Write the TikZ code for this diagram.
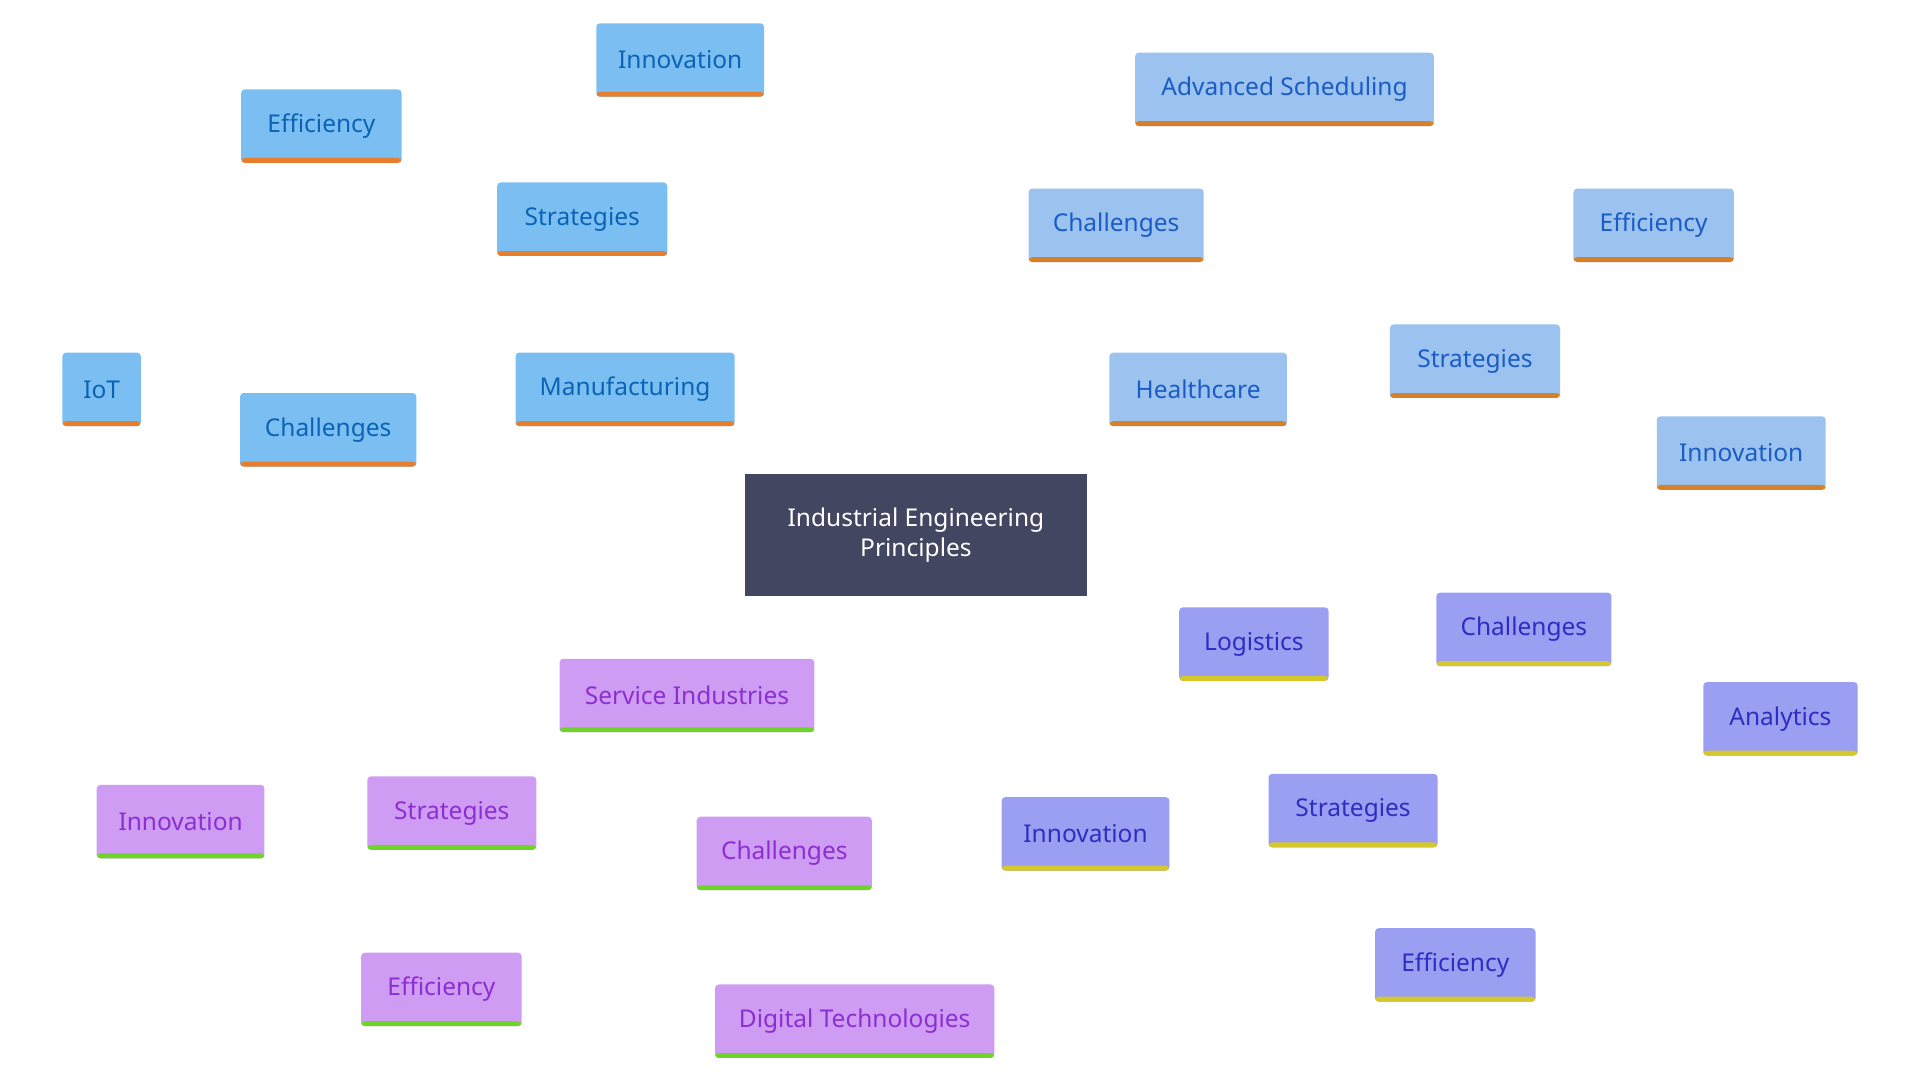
\documentclass[tikz,border=0pt]{standalone}
\usepackage{fontspec}
\setmainfont{Noto Sans}
\usetikzlibrary{backgrounds}
\definecolor{mF}{HTML}{7BBFF2}\definecolor{mT}{HTML}{0B63B5}\definecolor{mB}{HTML}{E67E2E}
\definecolor{hF}{HTML}{9CC3F0}\definecolor{hT}{HTML}{1A5CC4}\definecolor{hB}{HTML}{D4812A}
\definecolor{lF}{HTML}{9A9FF2}\definecolor{lT}{HTML}{2D2DC0}\definecolor{lB}{HTML}{D4C82A}
\definecolor{sF}{HTML}{CE9CF2}\definecolor{sT}{HTML}{8C2ED0}\definecolor{sB}{HTML}{6ED42A}
\definecolor{cF}{HTML}{424660}
\tikzset{
 box/.style n args={3}{fill=#1,text=#2,minimum height=60pt,rounded corners=3pt,inner sep=0pt,font=\fontsize{20}{24}\selectfont,
   path picture={\fill[#3] (path picture bounding box.south west) rectangle ([yshift=4pt]path picture bounding box.south east);}},
 m/.style={box={mF}{mT}{mB},minimum width=#1},
 h/.style={box={hF}{hT}{hB},minimum width=#1},
 l/.style={box={lF}{lT}{lB},minimum width=#1},
 s/.style={box={sF}{sT}{sB},minimum width=#1},
 e/.style={line width=4pt,draw=#1},
}
\begin{document}
\begin{tikzpicture}[x=1pt,y=-1pt]
\fill[white] (0,0) rectangle (1568,882);
\node[fill=cF,text=white,minimum width=280pt,minimum height=100pt,align=center,font=\fontsize{20}{24}\selectfont] (C) at (748,437) {Industrial Engineering\\Principles};
\node[m=179pt] (Man) at (510.5,318) {Manufacturing};
\node[m=139pt] (SM) at (475.5,179) {Strategies};
\node[m=131pt] (EM) at (262.5,103) {Efficiency};
\node[m=137pt] (IM) at (555.5,49) {Innovation};
\node[m=144pt] (CM) at (268,351) {Challenges};
\node[m=64pt] (IoT) at (83,318) {IoT};
\node[h=145pt] (H) at (978.5,318) {Healthcare};
\node[h=143pt] (CH) at (911.5,184) {Challenges};
\node[h=244pt] (AS) at (1049,73) {Advanced Scheduling};
\node[h=139pt] (SH) at (1204.5,295) {Strategies};
\node[h=131pt] (EH) at (1350.5,184) {Efficiency};
\node[h=138pt] (IH) at (1422,370) {Innovation};
\node[l=122pt] (L) at (1024,526) {Logistics};
\node[l=143pt] (CL) at (1244.5,514) {Challenges};
\node[l=126pt] (AL) at (1454,587) {Analytics};
\node[l=138pt] (SL) at (1105,662) {Strategies};
\node[l=137pt] (IL) at (886.5,681) {Innovation};
\node[l=131pt] (EL) at (1188.5,788) {Efficiency};
\node[s=208pt] (S) at (561,568) {Service Industries};
\node[s=138pt] (SS) at (369,664) {Strategies};
\node[s=137pt] (IS) at (147.5,671) {Innovation};
\node[s=131pt] (ES) at (360.5,808) {Efficiency};
\node[s=143pt] (CS) at (640.5,697) {Challenges};
\node[s=228pt] (DT) at (698,834) {Digital Technologies};
\begin{scope}[on background layer]
\draw[e=mF] (C.center)--(Man.center) (Man.center)--(SM.center) (SM.center)--(EM.center) (SM.center)--(IM.center) (Man.center)--(CM.center) (CM.center)--(IoT.center);
\draw[e=hF] (C.center)--(H.center) (H.center)--(CH.center) (CH.center)--(AS.center) (H.center)--(SH.center) (SH.center)--(EH.center) (SH.center)--(IH.center);
\draw[e=lF] (C.center)--(L.center) (L.center)--(CL.center) (CL.center)--(AL.center) (L.center)--(SL.center) (SL.center)--(IL.center) (SL.center)--(EL.center);
\draw[e=sF] (C.center)--(S.center) (S.center)--(SS.center) (SS.center)--(IS.center) (SS.center)--(ES.center) (S.center)--(CS.center) (CS.center)--(DT.center);
\end{scope}
\end{tikzpicture}
\end{document}
